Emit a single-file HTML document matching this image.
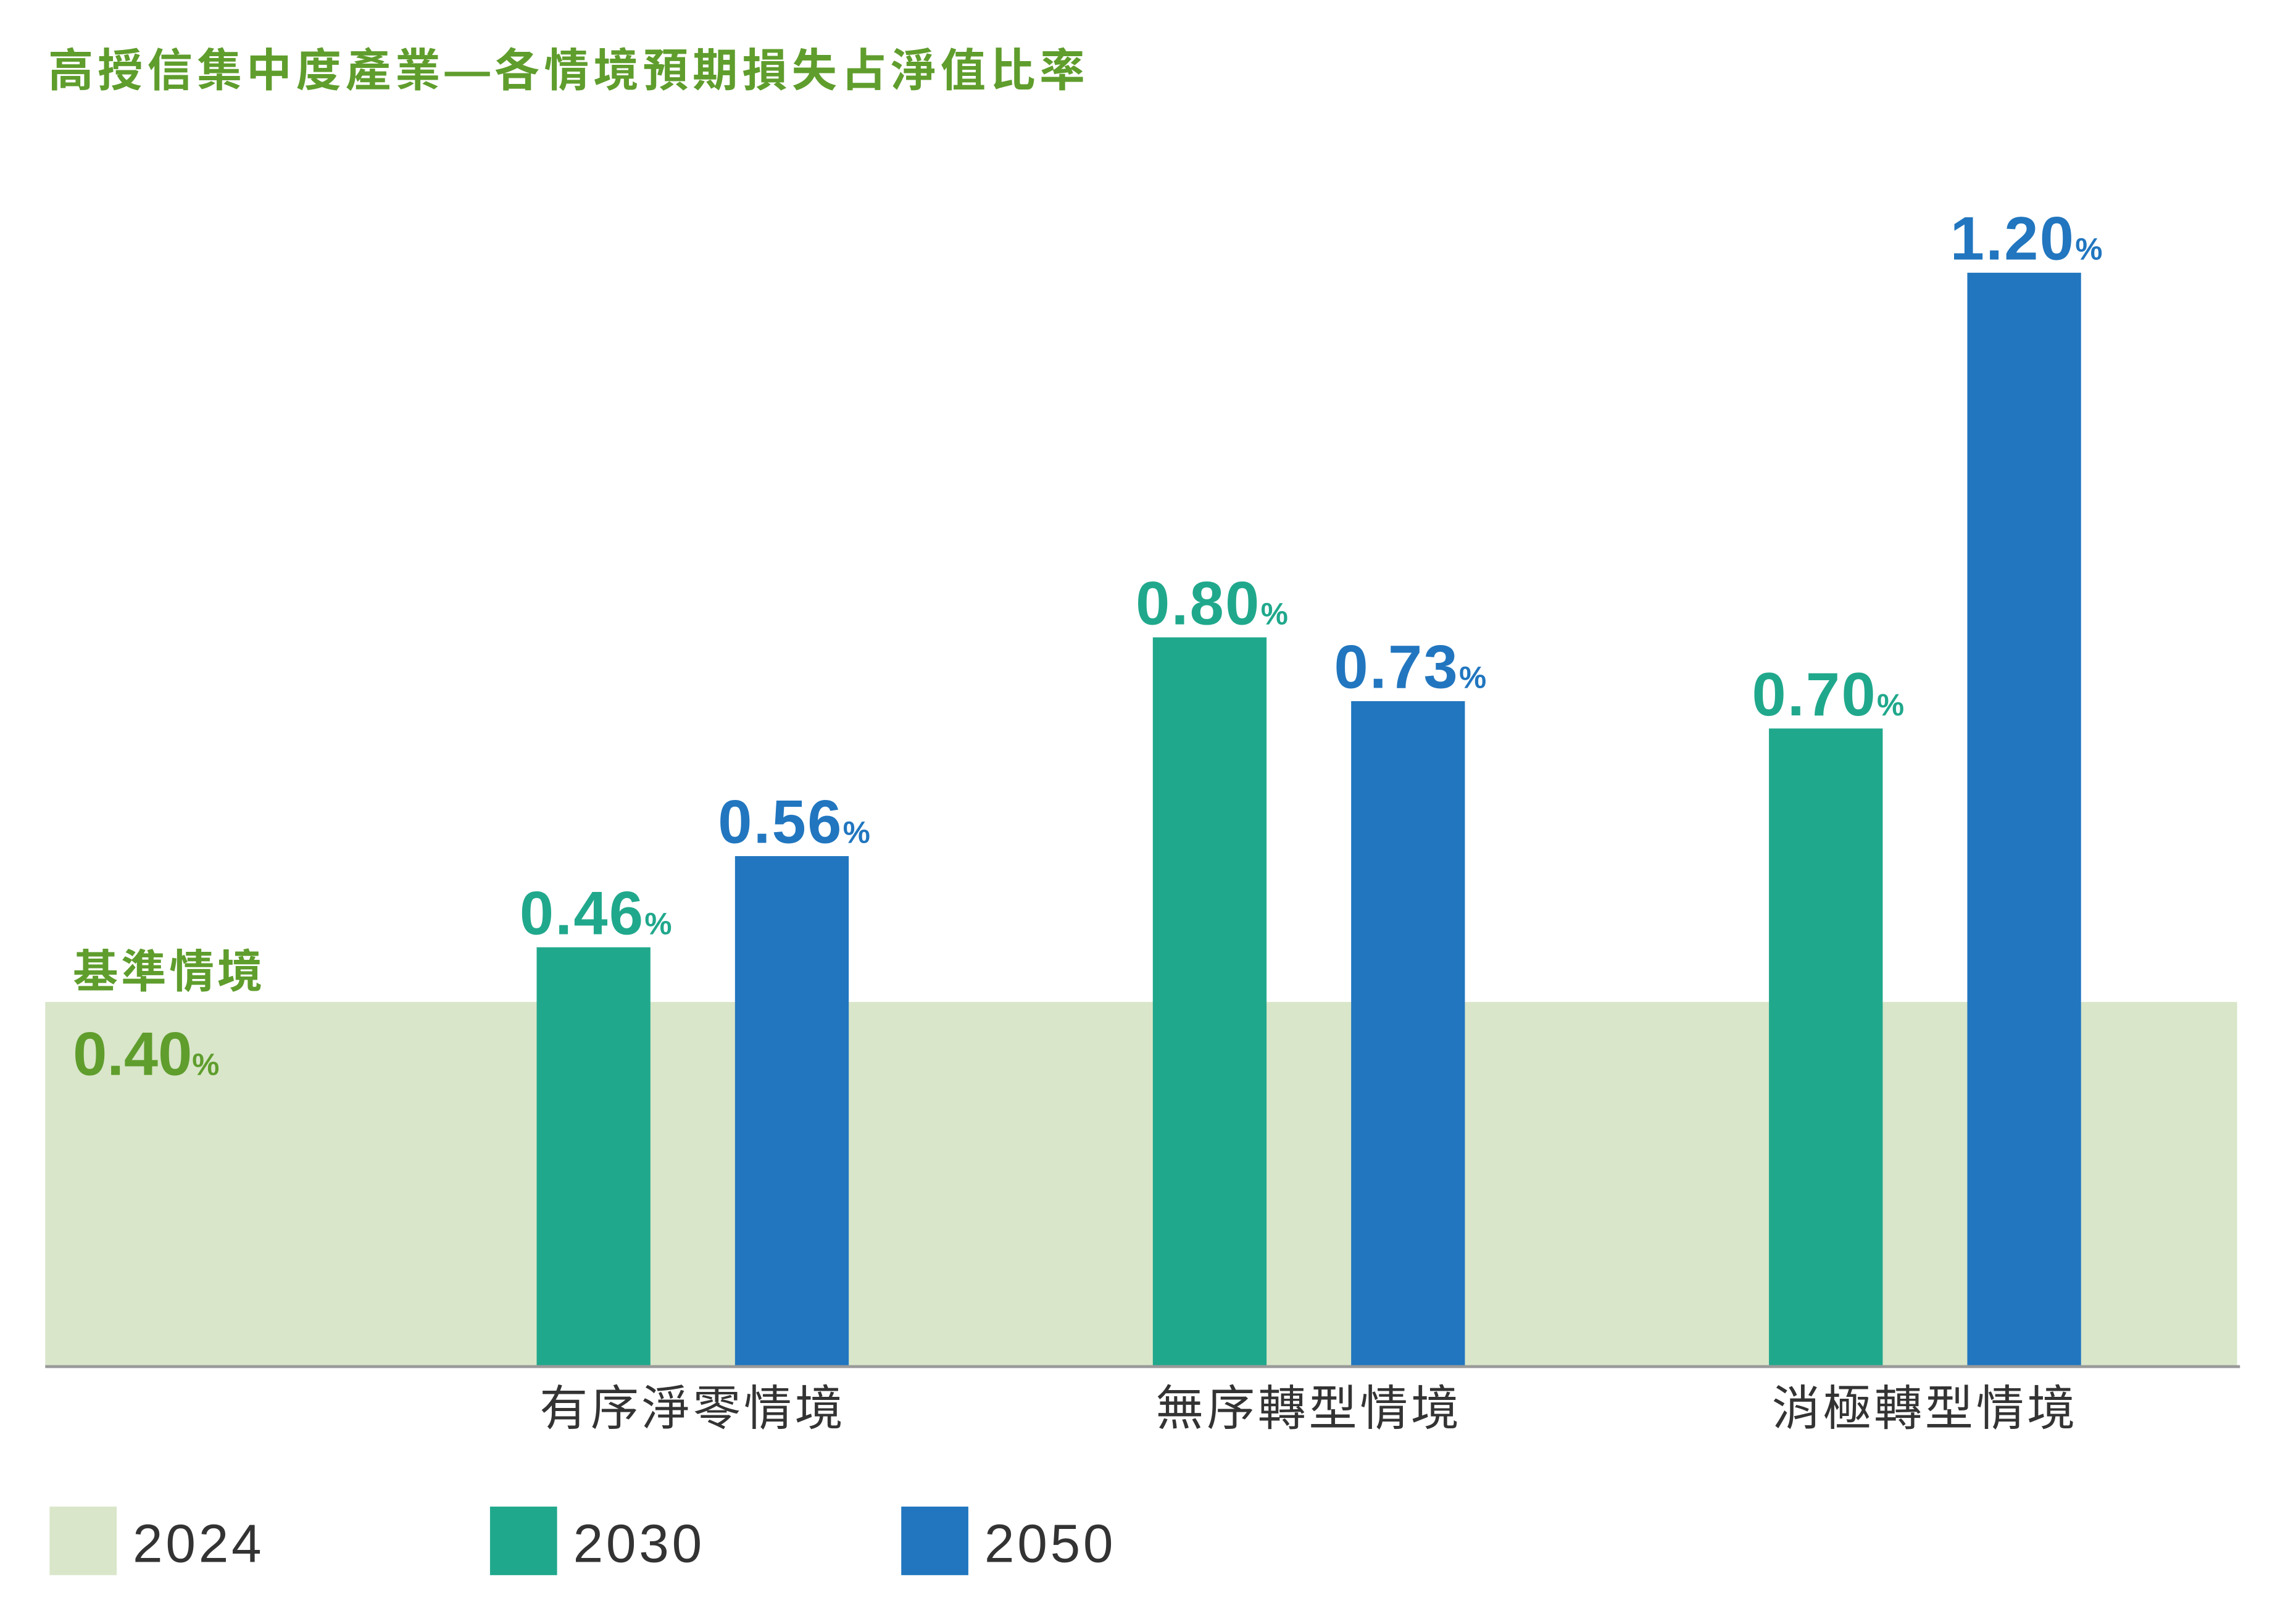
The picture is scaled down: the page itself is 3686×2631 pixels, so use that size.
<!DOCTYPE html>
<html><head><meta charset="utf-8">
<style>
html,body{margin:0;padding:0;background:#fff;}
svg{display:block;}
text{font-family:"Liberation Sans","Noto Sans CJK TC",sans-serif;}
</style></head>
<body>
<svg id="chart" width="3686" height="2631" viewBox="0 0 1560 1113.5" xmlns="http://www.w3.org/2000/svg">
<text x="33" y="59" font-size="31" font-weight="bold" fill="#5f9d2d" letter-spacing="3" style='font-family:"Liberation Sans","Noto Sans CJK TC",sans-serif'>高授信集中度產業—各情境預期損失占淨值比率</text>
<rect id="band" x="31" y="687" width="1503" height="250" fill="#d9e6c9"/>
<text x="50" y="677" font-size="31" font-weight="bold" fill="#5f9d2d" letter-spacing="2">基準情境</text>
<text id="baseVal" x="50" y="737" font-size="42" font-weight="bold" fill="#5f9d2d"></text>
<g id="bars"></g>
<line x1="31" y1="937" x2="1536" y2="937" stroke="#9a9a9a" stroke-width="2"/>
<g id="cats"></g>
<rect x="34" y="1033" width="46" height="47" fill="#d9e6c9"/>
<text x="91" y="1071" font-size="37" fill="#333" letter-spacing="2">2024</text>
<rect x="336" y="1033" width="46" height="47" fill="#20a88c"/>
<text x="393" y="1071" font-size="37" fill="#333" letter-spacing="2">2030</text>
<rect x="618" y="1033" width="46" height="47" fill="#2176bf"/>
<text x="675" y="1071" font-size="37" fill="#333" letter-spacing="2">2050</text>
</svg>
<script>
const categories = ["有序淨零情境", "無序轉型情境", "消極轉型情境"];
const baseline2024 = 0.40;
const values2030 = [0.46, 0.80, 0.70];
const values2050 = [0.56, 0.73, 1.20];

const NS = "http://www.w3.org/2000/svg";
const y0 = 937, pxPerUnit = 625;
function yScale(v){ return y0 - v * pxPerUnit; }
function groupX(i){ return 368 + i * 422.5; }
const barW = 78, gap = 58;

document.getElementById('band').setAttribute('y', yScale(baseline2024));
document.getElementById('band').setAttribute('height', y0 - yScale(baseline2024));
const bv = document.getElementById('baseVal');
bv.innerHTML = baseline2024.toFixed(2) + '<tspan font-size="21">%</tspan>';

const bars = document.getElementById('bars');
const cats = document.getElementById('cats');
function addBar(x, v, color, name){
  const r = document.createElementNS(NS, 'rect');
  
  
  r.setAttribute('x', x); r.setAttribute('y', yScale(v));
  r.setAttribute('width', barW); r.setAttribute('height', y0 - yScale(v));
  r.setAttribute('fill', color);
  bars.appendChild(r);
  const t = document.createElementNS(NS, 'text');
  
  
  t.setAttribute('x', x + barW / 2 + 2); t.setAttribute('y', yScale(v) - 9);
  t.setAttribute('text-anchor', 'middle');
  t.setAttribute('font-size', '42'); t.setAttribute('font-weight', 'bold');
  t.setAttribute('fill', color); t.setAttribute('letter-spacing', '1');
  t.innerHTML = v.toFixed(2) + '<tspan font-size="21">%</tspan>';
  bars.appendChild(t);
}
categories.forEach((c, i) => {
  const gx = groupX(i);
  addBar(gx, values2030[i], '#20a88c', 'bar-2030-' + (i + 1));
  addBar(gx + barW + gap, values2050[i], '#2176bf', 'bar-2050-' + (i + 1));
  const t = document.createElementNS(NS, 'text');
  
  
  t.setAttribute('x', gx + barW + gap / 2); t.setAttribute('y', 977);
  t.setAttribute('text-anchor', 'middle');
  t.setAttribute('font-size', '33'); t.setAttribute('fill', '#333');
  t.setAttribute('letter-spacing', '2');
  t.textContent = c;
  cats.appendChild(t);
});
</script>
</body></html>
